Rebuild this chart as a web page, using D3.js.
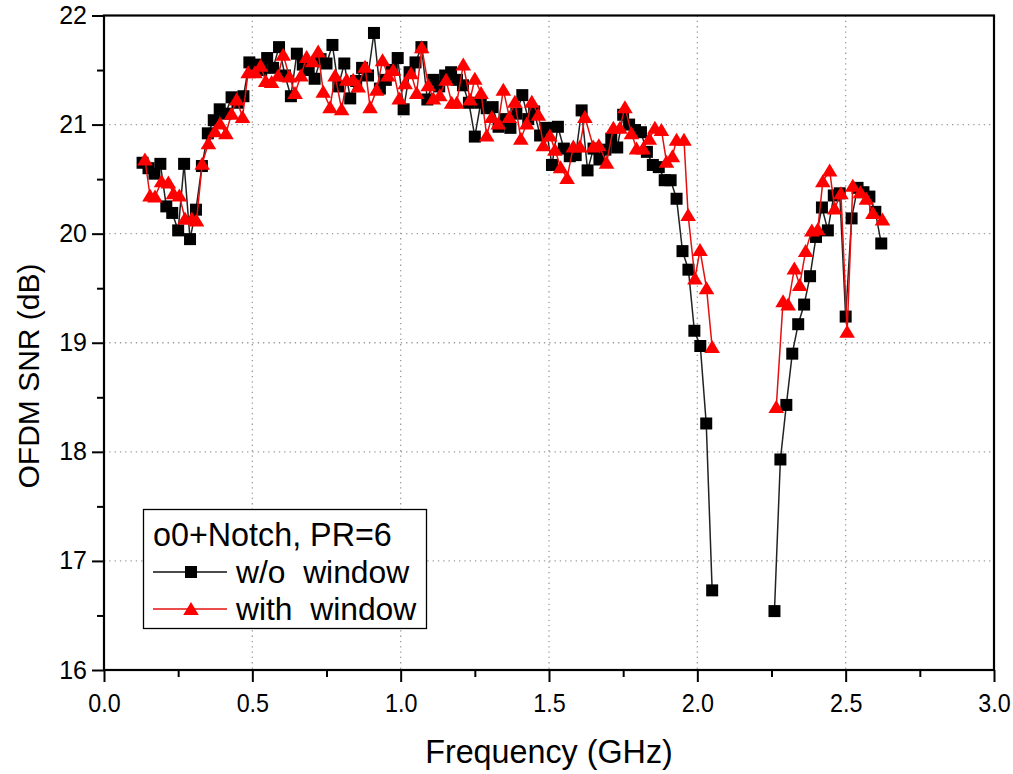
<!DOCTYPE html>
<html><head><meta charset="utf-8">
<script src="https://cdn.jsdelivr.net/npm/d3@7"></script>
<style>
body{margin:0;background:#fff}
svg{display:block;font-family:"Liberation Sans",Arial,Helvetica,sans-serif}
</style>
</head><body>
<svg id="chart" width="1013" height="774"></svg>
<script>
// ---- tick values ----
const xTicks = [0, 0.5, 1.0, 1.5, 2.0, 2.5, 3.0];
const xMinorTicks = [0.25, 0.75, 1.25, 1.75, 2.25, 2.75];
const yTicks = [16, 17, 18, 19, 20, 21, 22];
const yMinorTicks = [16.5, 17.5, 18.5, 19.5, 20.5, 21.5];

// ---- series: w/o window (black squares) ----
const noWinFreqA = [0.13,0.15,0.17,0.19,0.21,0.23,0.25,0.27,0.29,0.31,0.33,0.35,0.37,0.39,0.41,0.43,0.45,0.47,0.49,0.51,
  0.53,0.55,0.57,0.59,0.61,0.63,0.65,0.67,0.69,0.71,0.73,0.75,0.77,0.79,0.81,0.83,0.85,0.87,0.89,0.91,
  0.93,0.95,0.97,0.99,1.01,1.03,1.05,1.07,1.09,1.11,1.13,1.15,1.17,1.19,1.21,1.23,1.25,1.27,1.29,1.31,
  1.33,1.35,1.37,1.39,1.41,1.43,1.45,1.47,1.49,1.51,1.53,1.55,1.57,1.59,1.61,1.63,1.65,1.67,1.69,1.71,
  1.73,1.75,1.77,1.79,1.81,1.83,1.85,1.87,1.89,1.91,1.93,1.95,1.97,1.99,2.01,2.03,2.05];
const noWinSnrA = [20.65,20.60,20.55,20.64,20.25,20.19,20.03,20.64,19.95,20.22,20.62,20.92,21.04,21.14,21.10,21.25,21.20,21.26,21.57,21.55,
  21.50,21.61,21.52,21.71,21.45,21.26,21.65,21.55,21.50,21.42,21.60,21.56,21.73,21.35,21.56,21.24,21.40,21.52,21.45,21.84,
  21.33,21.41,21.50,21.61,21.14,21.48,21.57,21.71,21.23,21.41,21.35,21.45,21.48,21.41,21.36,21.20,20.89,21.20,21.15,21.16,
  20.98,21.05,20.97,21.10,21.27,21.05,21.12,20.90,20.97,20.63,20.98,20.78,20.71,20.72,21.13,20.58,20.78,20.68,20.77,20.87,
  20.79,21.09,21.00,20.95,20.93,20.75,20.63,20.61,20.49,20.49,20.32,19.84,19.67,19.11,18.97,18.26,16.73];
const noWinFreqB = [2.26,2.28,2.30,2.32,2.34,2.36,2.38,2.40,2.42,2.44,2.46,2.48,2.50,2.52,2.54,2.56,2.58,2.60,2.62];
const noWinSnrB = [16.54,17.93,18.43,18.90,19.17,19.35,19.61,19.97,20.24,20.03,20.35,20.37,19.24,20.14,20.42,20.38,20.34,20.20,19.91];

// ---- series: with window (red triangles) ----
const winFreqA = [0.138,0.155,0.172,0.194,0.217,0.234,0.254,0.273,0.296,0.312,
  0.331,0.352,0.374,0.391,0.411,0.430,0.447,0.467,0.486,0.509,
  0.528,0.545,0.565,0.587,0.604,0.625,0.644,0.664,0.683,0.703,
  0.722,0.739,0.762,0.779,0.801,0.818,0.840,0.857,0.880,0.897,
  0.919,0.939,0.957,0.975,0.995,1.015,1.035,1.054,1.071,1.093,
  1.110,1.132,1.153,1.172,1.189,1.211,1.234,1.250,1.271,1.290,
  1.307,1.329,1.346,1.366,1.385,1.405,1.425,1.442,1.464,1.481,
  1.503,1.520,1.539,1.561,1.582,1.604,1.621,1.649,1.668,1.694,
  1.717,1.739,1.756,1.778,1.795,1.817,1.838,1.857,1.879,1.896,
  1.916,1.930,1.955,1.969,1.992,2.009,2.031,2.050];
const winSnrA = [20.68,20.35,20.34,20.48,20.47,20.37,20.35,20.14,20.14,20.12,
  20.64,20.83,20.94,21.01,20.92,21.10,21.23,21.07,21.48,21.48,
  21.54,21.40,21.39,21.45,21.64,21.44,21.29,21.45,21.62,21.58,
  21.67,21.30,21.16,21.45,21.14,21.41,21.41,21.35,21.53,21.16,
  21.32,21.59,21.45,21.50,21.24,21.38,21.47,21.29,21.71,21.36,
  21.24,21.27,21.41,21.20,21.20,21.55,21.23,21.42,21.29,20.90,
  21.07,21.01,21.32,21.07,21.21,20.87,21.01,21.21,21.09,20.81,
  20.90,20.77,20.61,20.51,20.80,20.80,21.07,20.80,20.81,20.65,
  20.97,20.97,21.16,20.92,20.78,20.78,20.87,20.97,20.95,20.66,
  20.71,20.86,20.86,20.17,19.59,19.85,19.50,18.96];
const winFreqB = [2.266,2.289,2.306,2.327,2.345,2.365,2.386,2.406,2.423,2.446,2.463,2.484,2.505,2.524,2.550,2.570,2.592,2.624];
const winSnrB = [18.41,19.38,19.35,19.68,19.53,19.84,20.03,20.04,20.48,20.58,20.23,20.37,19.10,20.44,20.38,20.32,20.19,20.13];

const legendTitle = "o0+Notch, PR=6";
const seriesNames = ["w/o  window", "with  window"];

// ---- layout ----
const L = 104, R = 994, T = 15.5, B = 670;
const svg = d3.select("#chart");
const x = d3.scaleLinear().domain([0, 3]).range([L, R]);
const y = d3.scaleLinear().domain([16, 22]).range([B, T]);

// grid (dotted)
const grid = svg.append("g").attr("stroke", "#9a9a9a").attr("stroke-width", 1.3).attr("stroke-dasharray", "1.3,4");
grid.selectAll("line.gx").data(xTicks.filter(d => d > 0 && d < 3)).join("line")
  .attr("x1", d => x(d)).attr("x2", d => x(d)).attr("y1", T).attr("y2", B);
grid.selectAll("line.gy").data(yTicks.filter(d => d > 16 && d < 22)).join("line")
  .attr("class","gy").attr("x1", L).attr("x2", R).attr("y1", d => y(d)).attr("y2", d => y(d));

// axes
const fmtX = d3.format(".1f");
const xAxis = svg.append("g").attr("transform", `translate(0,${B})`)
  .call(d3.axisBottom(x).tickValues(xTicks).tickFormat(fmtX).tickSizeInner(12).tickSizeOuter(0).tickPadding(11));
const xMinor = svg.append("g").attr("transform", `translate(0,${B})`)
  .call(d3.axisBottom(x).tickValues(xMinorTicks).tickFormat("").tickSizeInner(7).tickSizeOuter(0));
const yAxis = svg.append("g").attr("transform", `translate(${L},0)`)
  .call(d3.axisLeft(y).tickValues(yTicks).tickFormat(d3.format("d")).tickSizeInner(12).tickSizeOuter(0).tickPadding(5));
const yMinor = svg.append("g").attr("transform", `translate(${L},0)`)
  .call(d3.axisLeft(y).tickValues(yMinorTicks).tickFormat("").tickSizeInner(7).tickSizeOuter(0));
[xAxis, xMinor, yAxis, yMinor].forEach(g => {
  g.select(".domain").remove();
  g.selectAll(".tick line").attr("stroke", "#000").attr("stroke-width", 2);
  g.selectAll(".tick text").attr("fill", "#000").attr("font-family", null);
});
yAxis.selectAll(".tick text").attr("font-size", 25);
xAxis.selectAll(".tick text").attr("font-size", 26.5).attr("transform", "scale(0.88,1)");

// series lines + markers
const line = d3.line().x(d => x(d.f)).y(d => y(d.v));
const zip = (fs, vs) => fs.map((f, i) => ({f, v: vs[i]}));
const blackSegs = [zip(noWinFreqA, noWinSnrA), zip(noWinFreqB, noWinSnrB)];
const redSegs = [zip(winFreqA, winSnrA), zip(winFreqB, winSnrB)];
const sq = d3.symbol().type(d3.symbolSquare).size(144)();
const tri = "M0,-7L7.8,6L-7.8,6Z";

const gB = svg.append("g");
gB.selectAll("path.l").data(blackSegs).join("path").attr("class","l")
  .attr("d", line).attr("fill", "none").attr("stroke", "#222").attr("stroke-width", 1.5);
gB.selectAll("path.m").data(blackSegs.flat()).join("path").attr("class","m")
  .attr("d", sq).attr("transform", d => `translate(${x(d.f)},${y(d.v)})`).attr("fill", "#000");

const gR = svg.append("g");
gR.selectAll("path.l").data(redSegs).join("path").attr("class","l")
  .attr("d", line).attr("fill", "none").attr("stroke", "#e41010").attr("stroke-width", 1.5);
gR.selectAll("path.m").data(redSegs.flat()).join("path").attr("class","m")
  .attr("d", tri).attr("transform", d => `translate(${x(d.f)},${y(d.v)})`).attr("fill", "#ff0000");

// frame
svg.append("rect").attr("x", L).attr("y", T).attr("width", R - L).attr("height", B - T)
  .attr("fill", "none").attr("stroke", "#000").attr("stroke-width", 2.2);

// axis titles
const cx = (L + R) / 2;
svg.append("text").attr("x", cx).attr("y", 763).attr("text-anchor", "middle")
  .attr("font-size", 34).attr("transform", `translate(${cx},0) scale(0.95,1) translate(${-cx},0)`)
  .text("Frequency (GHz)");
svg.append("text").attr("transform", "translate(39,376) rotate(-90)").attr("text-anchor", "middle")
  .attr("font-size", 30).text("OFDM SNR (dB)");

// legend
const lg = svg.append("g");
lg.append("rect").attr("x", 143.5).attr("y", 509.5).attr("width", 283).attr("height", 119)
  .attr("fill", "#fff").attr("stroke", "#000").attr("stroke-width", 1.3);
lg.append("text").attr("x", 153).attr("y", 546).attr("font-size", 32.3).text(legendTitle);
const rows = [{y: 572, c: "#111", m: sq, mc: "#000"}, {y: 609, c: "#e41010", m: tri, mc: "#ff0000"}];
rows.forEach((r, i) => {
  lg.append("line").attr("x1", 153).attr("x2", 227).attr("y1", r.y).attr("y2", r.y)
    .attr("stroke", r.c).attr("stroke-width", 1.5);
  lg.append("path").attr("d", r.m).attr("transform", `translate(191,${r.y})`).attr("fill", r.mc);
  lg.append("text").attr("x", 236).attr("y", r.y + 11).attr("font-size", 31.8)
    .attr("xml:space", "preserve").style("white-space", "pre").text(seriesNames[i]);
});
</script>
</body></html>
